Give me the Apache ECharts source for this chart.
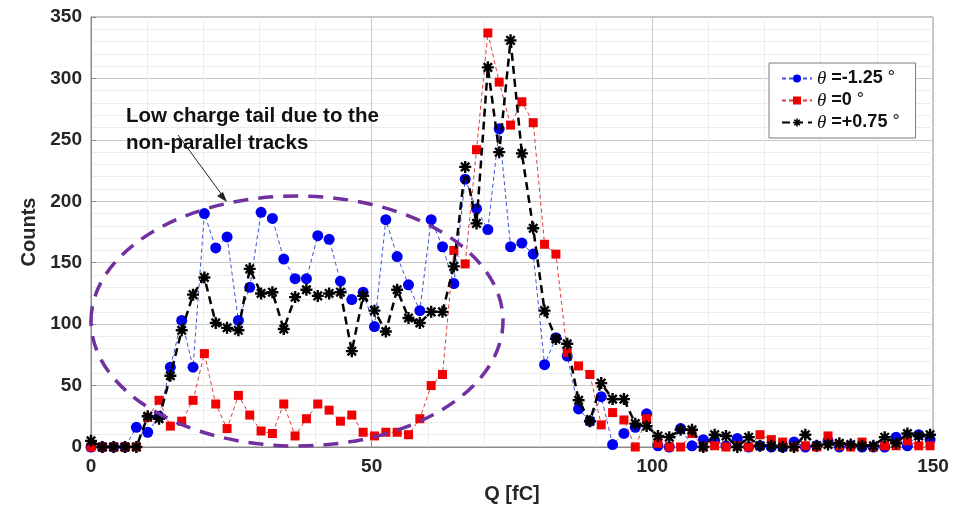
<!DOCTYPE html>
<html>
<head>
<meta charset="utf-8">
<script src="https://cdn.jsdelivr.net/npm/echarts@6/dist/echarts.min.js"></script>
<style>
html,body{margin:0;padding:0;background:#fff;}
#c{width:969px;height:509px;}
</style>
</head>
<body>
<div id="c"></div>
<script>
// Bin centres (fC)
const qValues = [0, 2.02, 4.04, 6.06, 8.08, 10.1, 12.12, 14.14, 16.16, 18.18, 20.2, 22.22, 24.24, 26.26, 28.28, 30.3, 32.32, 34.34, 36.36, 38.38, 40.4, 42.42, 44.44, 46.46, 48.48, 50.5, 52.52, 54.54, 56.56, 58.58, 60.6, 62.62, 64.64, 66.66, 68.68, 70.7, 72.72, 74.74, 76.76, 78.78, 80.8, 82.82, 84.84, 86.86, 88.88, 90.9, 92.92, 94.94, 96.96, 98.98, 101, 103.02, 105.04, 107.06, 109.08, 111.1, 113.12, 115.14, 117.16, 119.18, 121.2, 123.22, 125.24, 127.26, 129.28, 131.3, 133.32, 135.34, 137.36, 139.38, 141.4, 143.42, 145.44, 147.46, 149.48];

// theta = -1.25 deg
const countsMinus125 = [0, 0, 0, 0, 16, 12, 25, 65, 103, 65, 190, 162, 171, 103, 130, 191, 186, 153, 137, 137, 172, 169, 135, 120, 126, 98, 185, 155, 132, 111, 185, 163, 133, 218, 194, 177, 259, 163, 166, 157, 67, 89, 74, 31, 21, 41, 2, 11, 16, 27, 1, 0, 15, 1, 6, 5, 1, 7, 0, 1, 0, 0, 4, 0, 1, 5, 0, 1, 0, 0, 0, 8, 1, 10, 6];
// theta = 0 deg
const countsZero = [0, 0, 0, 0, 0, 24, 38, 17, 21, 38, 76, 35, 15, 42, 26, 13, 11, 35, 9, 23, 35, 30, 21, 26, 12, 9, 12, 12, 10, 23, 50, 59, 160, 149, 242, 337, 297, 262, 281, 264, 165, 157, 77, 66, 59, 18, 28, 22, 0, 23, 3, 0, 0, 11, 0, 1, 0, 1, 0, 10, 6, 4, 0, 1, 0, 9, 1, 0, 4, 0, 1, 1, 5, 1, 1];
// theta = +0.75 deg
const countsPlus075 = [5, 0, 0, 0, 0, 25, 23, 58, 95, 124, 138, 101, 97, 95, 145, 125, 126, 96, 122, 128, 123, 125, 126, 78, 123, 111, 94, 128, 105, 101, 110, 110, 147, 228, 182, 309, 240, 331, 239, 178, 111, 88, 84, 38, 21, 52, 39, 39, 19, 17, 9, 8, 14, 14, 0, 10, 9, 0, 8, 1, 1, 0, 0, 10, 1, 2, 3, 2, 1, 1, 8, 3, 11, 9, 10];

const seriesNames = ['θ =-1.25 °', 'θ =0 °', 'θ =+0.75 °'];
const xTicks = [0, 50, 100, 150];
const yTicks = [0, 50, 100, 150, 200, 250, 300, 350];

const asterisk = 'path://M-1,-5 L1,-5 L1,5 L-1,5 Z M-5,-1 L5,-1 L5,1 L-5,1 Z M-2.8,-4.2 L4.2,2.8 L2.8,4.2 L-4.2,-2.8 Z M4.2,-2.8 L-2.8,4.2 L-4.2,2.8 L2.8,-4.2 Z';

const pair = arr => qValues.map((q, i) => [q, arr[i]]);

const chart = echarts.init(document.getElementById('c'), null, {renderer: 'canvas'});
const font = 'Liberation Sans, Arial, sans-serif';

chart.setOption({
  animation: false,
  backgroundColor: '#ffffff',
  grid: {left: 91, right: 36, top: 17, bottom: 62, show: true, borderColor: '#8a8a8a', borderWidth: 1, backgroundColor: '#fff'},
  xAxis: {
    type: 'value', min: 0, max: 150, interval: 50,
    name: 'Q [fC]', nameLocation: 'middle', nameGap: 37,
    nameTextStyle: {fontFamily: font, fontWeight: 'bold', fontSize: 20, color: '#262626'},
    axisLine: {show: true, lineStyle: {color: '#8a8a8a'}},
    axisTick: {show: true, inside: true, length: 5, lineStyle: {color: '#8a8a8a'}},
    axisLabel: {fontFamily: font, fontWeight: 'bold', fontSize: 19, color: '#262626', margin: 10,
      formatter: v => xTicks.includes(v) ? String(v) : ''},
    splitLine: {show: true, lineStyle: {color: '#c8c8c8', width: 1}},
    minorTick: {show: false, splitNumber: 5},
    minorSplitLine: {show: true, lineStyle: {color: '#ececec', width: 1}}
  },
  yAxis: {
    type: 'value', min: 0, max: 350, interval: 50,
    name: 'Counts', nameLocation: 'middle', nameGap: 45, nameRotate: 90,
    nameTextStyle: {fontFamily: font, fontWeight: 'bold', fontSize: 20, color: '#262626'},
    axisLine: {show: true, lineStyle: {color: '#8a8a8a'}},
    axisTick: {show: true, inside: true, length: 5, lineStyle: {color: '#8a8a8a'}},
    axisLabel: {fontFamily: font, fontWeight: 'bold', fontSize: 19, color: '#262626', margin: 9,
      formatter: v => yTicks.includes(v) ? String(v) : ''},
    splitLine: {show: true, lineStyle: {color: '#c8c8c8', width: 1}},
    minorTick: {show: false, splitNumber: 5},
    minorSplitLine: {show: true, lineStyle: {color: '#ececec', width: 1}}
  },
  legend: {
    orient: 'vertical', left: 769, top: 63,
    padding: [6, 16, 6, 12], itemGap: 3, itemWidth: 30, itemHeight: 10,
    borderColor: '#7a7a7a', borderWidth: 1, backgroundColor: '#fff',
    data: seriesNames,
    formatter: name => {
      const rest = name.replace('θ ', '');
      return '{i|θ} {b|' + rest.replace(' °', '') + '} {d|°}';
    },
    textStyle: {
      fontFamily: font, fontSize: 18, color: '#111', lineHeight: 19,
      rich: {
        i: {fontFamily: 'Liberation Serif, DejaVu Serif, serif', fontStyle: 'italic', fontSize: 19, color: '#111', lineHeight: 19},
        b: {fontFamily: font, fontWeight: 'bold', fontSize: 18, color: '#111', lineHeight: 19},
        d: {fontFamily: font, fontSize: 18, color: '#111', lineHeight: 19}
      }
    }
  },
  series: [
    {
      name: seriesNames[0], type: 'line', data: pair(countsMinus125),
      symbol: 'circle', symbolSize: 11,
      itemStyle: {color: '#0000f0'},
      lineStyle: {color: '#3a55d8', width: 1, type: [4, 3]},
      z: 2
    },
    {
      name: seriesNames[1], type: 'line', data: pair(countsZero),
      symbol: 'rect', symbolSize: 9,
      itemStyle: {color: '#f00000'},
      lineStyle: {color: '#e03a3a', width: 1, type: [4, 3]},
      z: 3
    },
    {
      name: seriesNames[2], type: 'line', data: pair(countsPlus075),
      symbol: asterisk, symbolSize: 12,
      itemStyle: {color: '#000000'},
      lineStyle: {color: '#000000', width: 2.5, type: [8, 5]},
      z: 4
    }
  ],
  graphic: [
    {
      type: 'ellipse', z: 10, silent: true,
      shape: {cx: 297, cy: 321, rx: 206, ry: 125},
      style: {fill: null, stroke: '#7030A0', lineWidth: 3.5, lineDash: [15, 10]}
    },
    {
      type: 'text', z: 11, left: 126, top: 103,
      style: {text: 'Low charge tail due to the\nnon-parallel tracks', font: 'bold 20.5px ' + font, fill: '#111', lineHeight: 27}
    },
    {
      type: 'line', z: 11,
      shape: {x1: 178, y1: 135, x2: 225, y2: 199},
      style: {stroke: '#222', lineWidth: 1}
    },
    {
      type: 'polygon', z: 11,
      shape: {points: [[227, 202], [217, 196], [223, 192]]},
      style: {fill: '#222'}
    }
  ]
});
</script>
</body>
</html>
